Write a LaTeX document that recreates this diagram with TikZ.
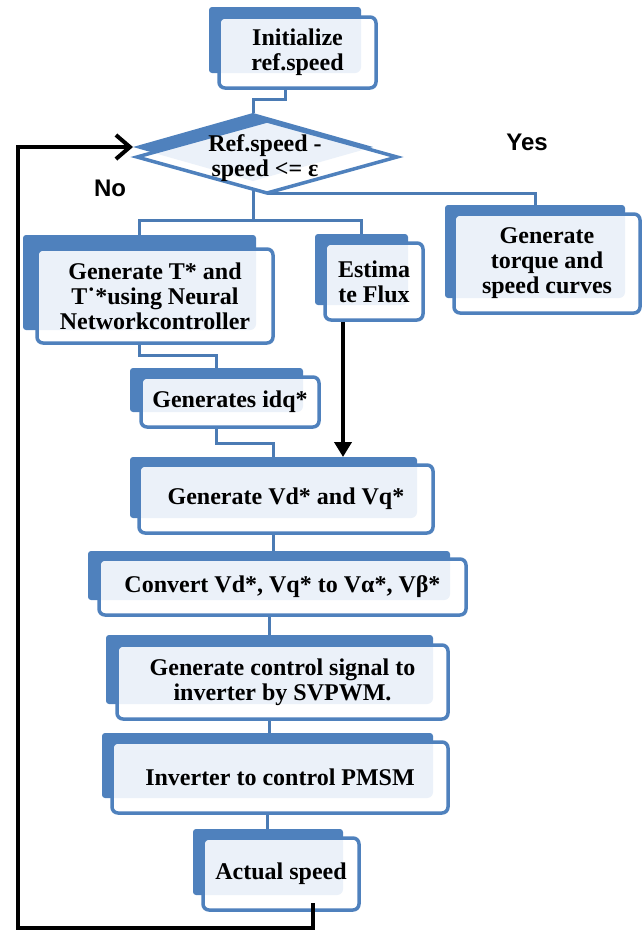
\documentclass[tikz,border=0pt]{standalone}
\usepackage{fontspec}
\setmainfont{Liberation Serif}
\newfontfamily\yesnofont{Liberation Sans}
\usetikzlibrary{shapes.geometric,backgrounds,arrows.meta}
\definecolor{boxblue}{RGB}{79,129,189}
\definecolor{boxfill}{RGB}{235,241,249}

\begin{document}
\begin{tikzpicture}[x=1pt, y=-1pt,
    B/.style = {rectangle, fill=boxblue, rounded corners=3pt,% back part of a box
                inner sep=0pt, outer sep=0pt},
    F/.style = {rectangle, draw=boxblue, line width=3.5pt, fill=white,% front part of a box
                rounded corners=6pt, inner sep=0pt, align=center,
                font=\bfseries\fontsize{24}{25}\selectfont},
    D/.style = {diamond, inner sep=0pt, outer sep=0pt},
    L/.style = {draw=boxblue!95!black, line width=3pt},% blue connectors
    K/.style = {draw=black, line width=4pt},% black arrows
    A/.style = {font=\yesnofont\bfseries\fontsize{24}{26}\selectfont},
                        ]
\useasboundingbox (0,0) rectangle (644,932);
% name / back centre / back size / front centre / front size / text
\foreach \n/\bx/\by/\bw/\bh/\fx/\fy/\fw/\fh/\txt in {
    init/285/40/152/66/297.5/52.5/157/71/{Initialize\\ref.speed},
    gent/139.5/282.5/233/95/155/296/236/94/{Generate T* and\\T˙*using Neural\\Networkcontroller},
    flux/361.5/269.5/93/71/374/281.5/98/77/{Estima\\te Flux},
    torq/535/251.5/180/93/547/263.5/186/99/{Generate\\torque and\\speed curves},
    idq/216.5/390/173/44/230/402/178/50/{Generates idq*},
    vd/273.5/487.5/287/61/286/499/294/68/{Generate Vd* and Vq*},
    conv/269/575.5/362/49/282.5/587/367/56/{Convert Vd*, Vq* to Vα*, Vβ*},
    svp/269.5/669.5/327/69/282.5/682/331/74/{Generate control signal to\\inverter by SVPWM.},
    inv/267.5/765.5/331/65/280/777.5/336/71/{Inverter to control PMSM},
    act/268/862/150/66/281/874/156/72/{Actual speed}}
{
\node[B, minimum width=\bw, minimum height=\bh] (\n) at (\bx,\by) {};
\node[F, minimum width=\fw, minimum height=\fh,
      path picture={\fill[boxfill] (\n.north west) rectangle (\n.south east);}]
      (\n-f) at (\fx,\fy) {\txt};
}
% decision
\node[D, fill=boxblue, minimum width=240, minimum height=68] (dec) at (253,147) {};
\node[D, draw=boxblue, line width=3.5pt, fill=white, minimum width=260, minimum height=72,
      path picture={\fill[boxfill] (dec.north) -- (dec.east) -- (dec.south) -- (dec.west) -- cycle;}]
      (dec-f) at (267,157) {};
\node[align=center, font=\bfseries\fontsize{24}{25}\selectfont] (dec-t) at (265,158)
      {Ref.speed -\\speed <= ε};
\node[A] (yes) at (527,142) {Yes};
\node[A] (no) at (110,188) {No};
% blue links
\begin{scope}[on background layer]
\draw[L] (init) |- (dec |- 0,99) -- (dec);
\draw[L] (dec) -- (dec |- 0,220) -| (gent);
\draw[L] (dec |- 0,220) -| (flux);
\draw[L] (dec-f.south) -| (torq);
\draw[L] (gent) |- (idq |- 0,355) -- (idq);
\draw[L] (idq) |- (vd |- 0,443) -- (vd);
\draw[L] (vd) -- (vd |- conv);
\draw[L] (conv) -- (conv |- svp);
\draw[L] (svp) -- (svp |- inv);
\draw[L] (inv) -- (inv |- act);
\end{scope}
% black arrows
\coordinate (fb) at (313,903);
\coordinate (fbc) at (18,928);
\draw[K, miter limit=10, -{Straight Barb[length=14pt,width=24pt]}] (fb) |- (fbc) |- (dec.west);
\coordinate (fx) at ([xshift=-31pt]flux-f.south);
\draw[K, -{Triangle[length=15pt,width=17pt]}] (fx) -- (fx |- vd.north);
\end{tikzpicture}
\end{document}
